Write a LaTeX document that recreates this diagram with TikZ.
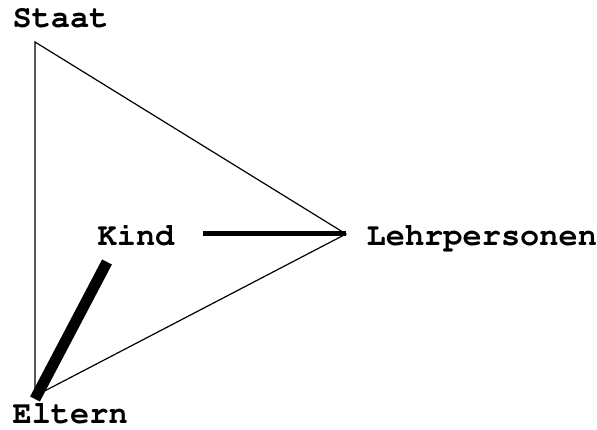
\documentclass[tikz,border=0pt]{standalone}
\usepackage[T1]{fontenc}
\usepackage{tikz}

\tikzset{lbl/.style={anchor=base west, inner sep=0pt, font=\fontencoding{T1}\fontfamily{pcr}\fontseries{b}\fontsize{32}{32}\selectfont}}

\begin{document}
\begin{tikzpicture}[x=1pt, y=1pt, line width=1.2pt]
    \useasboundingbox (0,0) rectangle (597,430);
    \coordinate (s) at (35,388);
    \coordinate (e) at (35,34);
    \coordinate (l) at (346,196);
    \coordinate (kr) at (203,196);
    \coordinate (kb) at (107,168);
    \coordinate (eb) at (35,31);
    \node[lbl] (staat) at (12,402) {Staat};
    \node[lbl] (kind) at (97,184) {Kind};
    \node[lbl] (lehr) at (366,184) {Lehrpersonen};
    \node[lbl] (eltern) at (12,6) {Eltern};
    \draw (s) -- (l) -- (e) -- cycle;
    \draw[line width=5pt] (kr) -- (l);
    \draw[line width=11pt] (kb) -- (eb);
\end{tikzpicture}
\end{document}
